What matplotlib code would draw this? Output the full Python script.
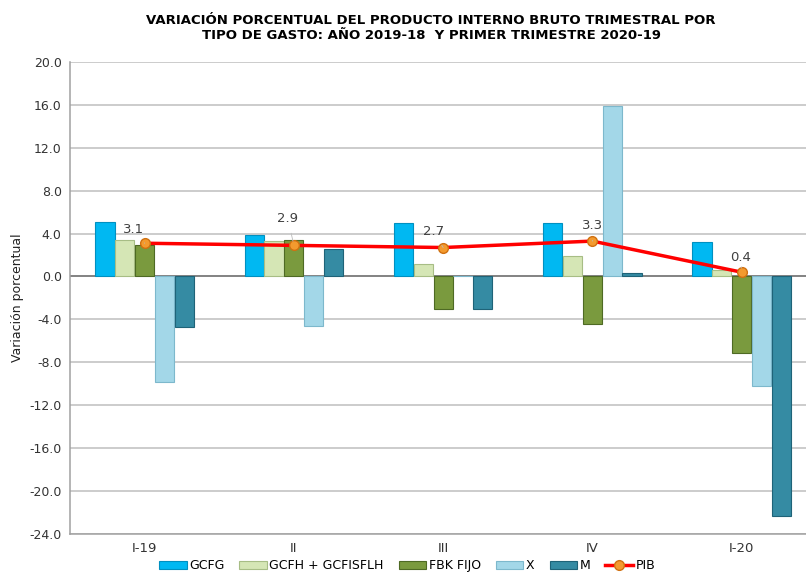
import matplotlib
matplotlib.use("Agg")
import matplotlib.pyplot as plt
import numpy as np

categories = ["I-19", "II", "III", "IV", "I-20"]
gcfg = [5.1, 3.9, 5.0, 5.0, 3.2]
gcfh = [3.4, 3.3, 1.2, 1.9, 0.6]
fbk = [2.9, 3.4, -3.0, -4.4, -7.1]
x_exp = [-9.8, -4.6, 0.0, 15.9, -10.2]
m_imp = [-4.7, 2.6, -3.0, 0.3, -22.3]
pib = [3.1, 2.9, 2.7, 3.3, 0.4]
series_names = ["GCFG", "GCFH + GCFISFLH", "FBK FIJO", "X", "M"]
yticks = [20, 16, 12, 8, 4, 0, -4, -8, -12, -16, -20, -24]

# label placement offsets (styling)
lbl_dx = [-0.074, -0.04, -0.067, 0.0, -0.007]
lbl_dy = [1.3, 2.5, 1.5, 1.44, 1.37]

colors = ["#00B8F2", "#D5E6B5", "#7A9A3E", "#A3D7E8", "#358BA3"]
edges = ["#0090C0", "#A7BD85", "#4E6A24", "#7DB8CC", "#1F6378"]

fig = plt.figure(figsize=(8.06, 5.73), dpi=100)
ax = fig.add_axes([0.0868, 0.068, 0.926, 0.824])

idx = np.arange(len(categories))
w = 0.133
offsets = (np.arange(5) - 2) * w
for k, vals in enumerate([gcfg, gcfh, fbk, x_exp, m_imp]):
    ax.bar(idx + offsets[k], vals, w * 0.97, color=colors[k], edgecolor=edges[k],
           linewidth=0.8, label=series_names[k], zorder=3)

ax.plot(idx, pib, color="#FF0000", linewidth=2.5, marker="o", markersize=7,
        markerfacecolor="#F39A2E", markeredgecolor="#D07010", label="PIB", zorder=5)
for i, v in enumerate(pib):
    ax.annotate(f"{v:.1f}", xy=(i, v), xytext=(i + lbl_dx[i], v + lbl_dy[i]),
                ha="center", va="center", fontsize=9.5, color="#404040",
                arrowprops=dict(arrowstyle="-", color="#BBBBBB", lw=0.6,
                                shrinkA=4, shrinkB=3), zorder=6)

ax.set_xlim(-0.5, 4.5)
ax.set_ylim(-24, 20)
ax.set_yticks(yticks)
ax.set_yticklabels([f"{t:.1f}" for t in yticks], fontsize=9, color="#333333")
ax.set_xticks(idx)
ax.set_xticklabels(categories, fontsize=9.5, color="#333333")
ax.tick_params(axis="both", length=0, pad=6)
ax.grid(axis="y", color="#BFBFBF", linewidth=1.1, zorder=0)
ax.axhline(0, color="#707070", linewidth=1.1, zorder=2)
for s in ["top", "right"]:
    ax.spines[s].set_visible(False)
for s in ["left", "bottom"]:
    ax.spines[s].set_color("#A0A0A0")
    ax.spines[s].set_linewidth(1.1)

ax.set_ylabel("Variación porcentual", fontsize=9, color="#222222", labelpad=4)

fig.text(0.535, 0.975, "VARIACIÓN PORCENTUAL DEL PRODUCTO INTERNO BRUTO TRIMESTRAL POR\n"
         "TIPO DE GASTO: AÑO 2019-18  Y PRIMER TRIMESTRE 2020-19",
         ha="center", va="top", fontsize=9.5, fontweight="bold", linespacing=1.2)

handles, labels = ax.get_legend_handles_labels()
order = [1, 2, 3, 4, 5, 0]
fig.legend([handles[i] for i in order], [labels[i] for i in order],
           loc="lower center", bbox_to_anchor=(0.505, -0.012), ncol=6,
           frameon=False, fontsize=9, handlelength=2.2, handleheight=0.5,
           handletextpad=0.2, columnspacing=1.2, borderpad=0.1)

fig.savefig("out.png", dpi=100)
